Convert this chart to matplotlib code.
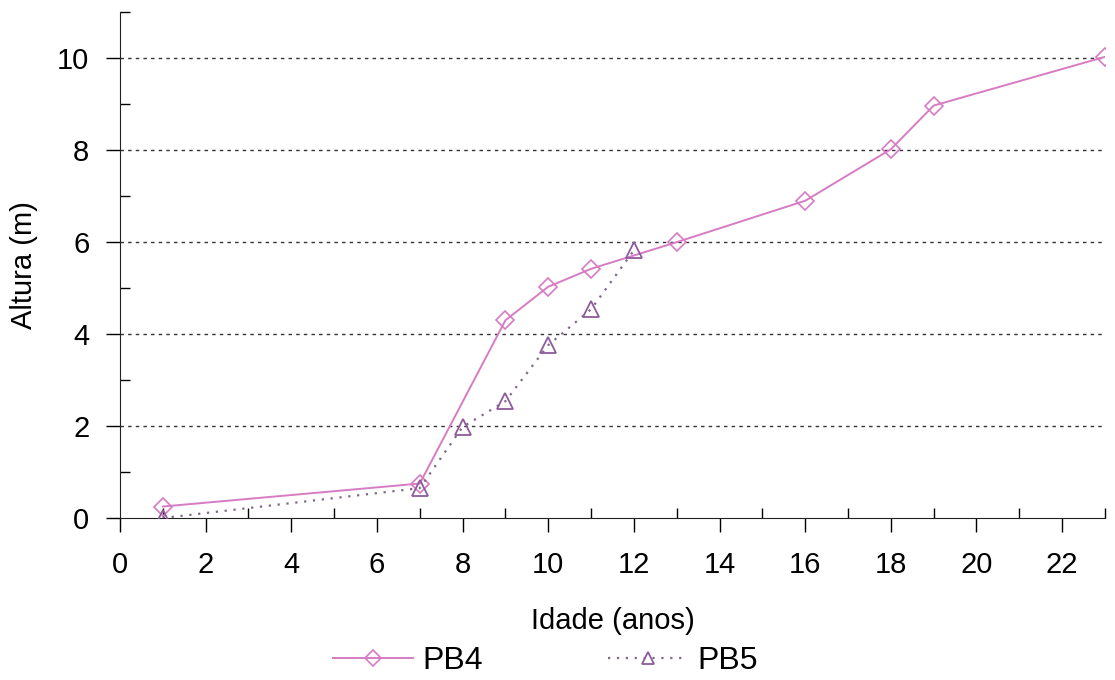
import matplotlib.pyplot as plt
from matplotlib.ticker import MultipleLocator

plt.rcParams['font.family'] = ['Liberation Sans', 'DejaVu Sans']

# growth in height by age
pb4_age = [1, 7, 9, 10, 11, 13, 16, 18, 19, 23]
pb4_height = [0.25, 0.75, 4.3, 5.03, 5.42, 6.0, 6.9, 8.02, 8.97, 10.03]

pb5_age = [1, 7, 8, 9, 10, 11, 12]
pb5_height = [0.0, 0.65, 1.98, 2.54, 3.76, 4.54, 5.82]

pb4_color = "#d77cc3"
pb5_line = "#806888"
pb5_marker = "#8e5a9c"

fig = plt.figure(figsize=(11.15, 6.8), dpi=100)
ax = fig.add_axes([0.1076, 0.2382, 0.8834, 0.7438])

ax.plot(pb4_age, pb4_height, color=pb4_color, lw=1.4, marker="D", ms=9,
        mfc="none", mec=pb4_color, mew=1.2, label="PB4", zorder=3)
ax.plot(pb5_age, pb5_height, color=pb5_line, lw=1.6, ls=(0, (1, 3)), marker="^",
        ms=11, mfc="none", mec=pb5_marker, mew=1.3, label="PB5", zorder=4)

ax.set_xlim(0, 23)
ax.set_ylim(0, 11)
ax.xaxis.set_major_locator(MultipleLocator(2))
ax.xaxis.set_minor_locator(MultipleLocator(1))
ax.yaxis.set_major_locator(MultipleLocator(2))
ax.yaxis.set_minor_locator(MultipleLocator(1))
ax.tick_params(which="major", direction="out", length=10, width=1, labelsize=21)
ax.tick_params(axis="x", which="major", pad=14)
ax.tick_params(axis="y", which="major", pad=12)
ax.tick_params(which="minor", direction="in", length=7, width=1)

for y in [2, 4, 6, 8, 10]:
    ax.axhline(y, color="#333333", lw=1, ls=(0, (2.5, 3)), zorder=1)

for side in ["top", "right"]:
    ax.spines[side].set_visible(False)
for side in ["left", "bottom"]:
    ax.spines[side].set_color("#222222")

ax.set_xlabel("Idade (anos)", fontsize=21, labelpad=20)
ax.set_ylabel("Altura (m)", fontsize=21, labelpad=14)

fig.legend(loc="lower center", bbox_to_anchor=(0.489, -0.036), ncol=2, frameon=False,
           fontsize=23, handlelength=2.5, columnspacing=3.9, handletextpad=0.3,
           markerscale=0.85)

fig.savefig("out.png", dpi=100)
